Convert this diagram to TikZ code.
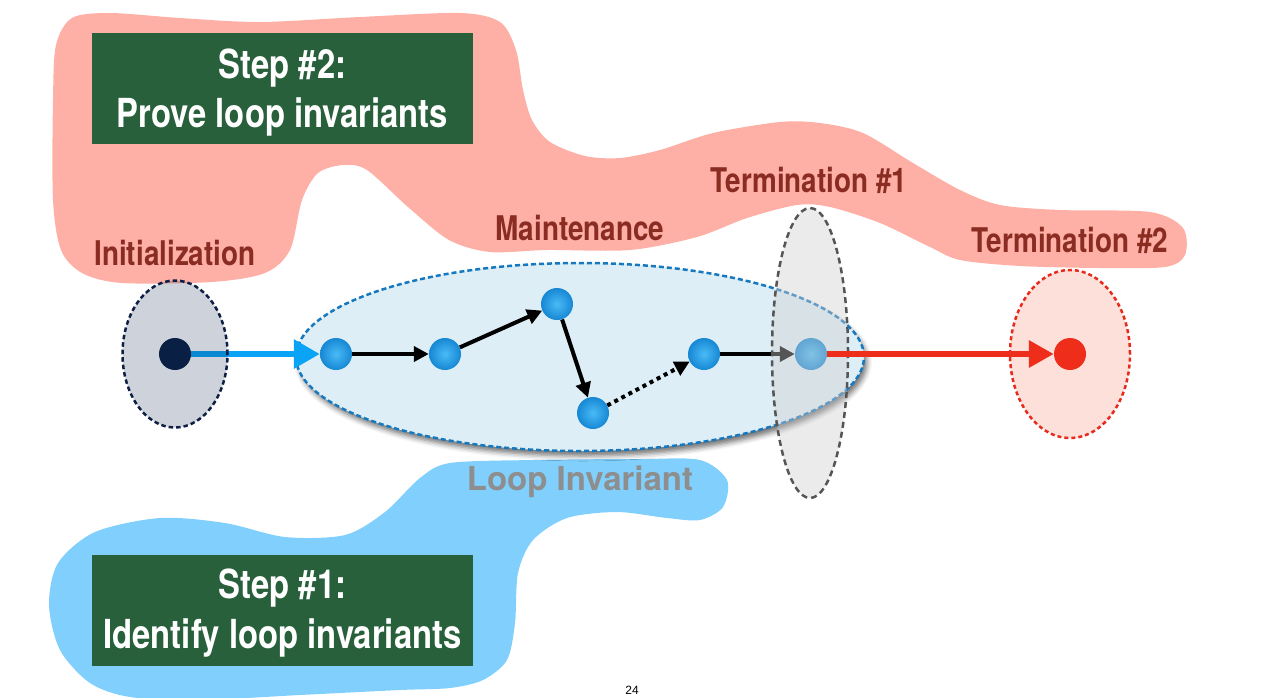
\documentclass[tikz,border=0pt]{standalone}
\usepackage{fontspec}
\setmainfont{TeX Gyre Heros}
\newfontfamily\cond{TeX Gyre Heros}[FakeStretch=0.82]
\newfontfamily\plainsf{Liberation Sans}
\usetikzlibrary{arrows.meta,shapes.geometric,shadows.blur}
\definecolor{pinkblob}{HTML}{FEB0A6}
\definecolor{blueblob}{HTML}{80CFFD}
\definecolor{boxgreen}{HTML}{28603B}
\definecolor{labelred}{HTML}{8A2C22}
\definecolor{invfill}{HTML}{DDEEF7}
\definecolor{invborder}{HTML}{1679C0}
\definecolor{navy}{HTML}{0A1F44}
\definecolor{initborder}{HTML}{0D1F45}
\definecolor{grayveil}{HTML}{CFCFCF}
\definecolor{grayborder}{HTML}{555555}
\definecolor{termfill}{HTML}{FDE0DA}
\definecolor{termborder}{HTML}{E62A1C}
\definecolor{redc}{HTML}{EE2D1A}
\definecolor{arrowblue}{HTML}{0AA3F5}
\definecolor{ballin}{HTML}{4ABAF6}
\definecolor{ballout}{HTML}{1688D4}
\definecolor{invtext}{HTML}{8E8E8E}
\pgfdeclarelayer{back}
\pgfdeclarelayer{arrows}
\pgfdeclarelayer{veil}
\pgfsetlayers{back,arrows,veil,main}
\tikzset{
  lbl/.style={text=labelred, font=\cond\bfseries\fontsize{34}{40}\selectfont, anchor=base, inner sep=0pt},
  stepbox/.style={fill=boxgreen, minimum width=381pt, minimum height=111pt, inner sep=0pt},
  steptext/.style={text=white, font=\cond\bfseries\fontsize{40}{48}\selectfont, anchor=base, inner sep=0pt},
  ball/.style={circle, minimum size=32pt, inner sep=0pt, inner color=ballin, outer color=ballout},
  dotnode/.style={circle, minimum size=32pt, inner sep=0pt},
  blk/.style={line width=4pt, draw=black, -{Triangle[length=15pt,width=15pt]}},
  ringdash/.style={line width=2.5pt, dash pattern=on 4.5pt off 3pt},
}
\begin{document}
\begin{tikzpicture}[x=1pt,y=-1pt]
\useasboundingbox (0,0) rectangle (1265,697);
\begin{pgfonlayer}{back}
  % pink blob
  \fill[pinkblob] plot[smooth cycle, tension=0.5] coordinates {
    (56,45) (72,18) (110,13) (180,18) (260,22) (360,17) (460,13) (500,22)
    (516,50) (523,90) (532,120) (550,142) (585,156) (620,158) (660,150)
    (713,133) (780,122) (820,123) (863,133) (913,163) (960,190) (1000,205)
    (1060,210) (1150,212) (1183,228) (1185,255) (1165,267) (1100,268)
    (1020,266) (960,260) (930,247) (880,223) (830,207) (797,205) (747,218)
    (697,237) (630,250) (547,250) (490,252) (449,240) (408,207) (367,170)
    (343,165) (318,173) (302,200) (290,250) (265,273) (212,282) (122,283)
    (82,273) (61,250) (53,200) (53,100)};
  % blue blob
  \fill[blueblob] plot[smooth cycle, tension=0.5] coordinates {
    (450,463) (533,460) (640,459) (700,460) (727,480) (723,507) (700,520)
    (667,518) (617,512) (567,518) (533,540) (518,573) (515,623) (507,660)
    (483,680) (450,688) (400,690) (300,695) (200,700) (130,697) (90,683)
    (60,650) (49,605) (58,563) (95,532) (160,518) (225,523) (285,537)
    (345,535) (385,512) (420,478)};
  % step boxes
  \node[stepbox] (s2) at (282.5,88.5) {};
  \node[steptext] (s2a) at (282.5,78) {Step \#2:};
  \node[steptext] (s2b) at (282.5,127) {Prove loop invariants};
  \node[stepbox] (s1) at (282.5,610) {};
  \node[steptext] (s1a) at (282.5,598) {Step \#1:};
  \node[steptext] (s1b) at (282.5,648) {Identify loop invariants};
  % labels
  \node[lbl] (linit) at (175,265) {Initialization};
  \node[lbl] (lmain) at (580,240) {Maintenance};
  \node[lbl] (lt1) at (809,192) {Termination \#1};
  \node[lbl] (lt2) at (1070,252) {Termination \#2};
  \node[anchor=base, inner sep=0pt, text=invtext, font=\bfseries\fontsize{33}{38}\selectfont] (linv) at (580,490) {Loop Invariant};
  \node[inner sep=0pt, font=\plainsf\fontsize{12}{14}\selectfont] (pg) at (632,690) {24};
  % loop invariant ellipse
  \node[ellipse, draw=invborder, fill=invfill, ringdash, dash pattern=on 5pt off 3pt,
        minimum width=568pt, minimum height=188pt, inner sep=0pt,
        blur shadow={shadow xshift=3pt, shadow yshift=-5pt, shadow blur radius=5pt, shadow opacity=55}] (inv) at (580,357) {};
  % termination 2 ellipse
  \node[ellipse, draw=termborder, fill=termfill, ringdash, dash pattern=on 4pt off 3pt,
        minimum width=120pt, minimum height=168pt, inner sep=0pt] (t2e) at (1070,354) {};
\end{pgfonlayer}
% balls and dots
\node[dotnode, fill=navy] (d0) at (175,354) {};
\node[ball] (n1) at (336,354) {};
\node[ball] (n2) at (445,354) {};
\node[ball] (n3) at (557,304) {};
\node[ball] (n4) at (593,413) {};
\node[ball] (n5) at (704,354) {};
\node[dotnode, fill=redc] (rd) at (1070,354) {};
\begin{pgfonlayer}{arrows}
  \node[ball] (n6) at (811,354) {};
  \draw[line width=6pt, draw=arrowblue, -{Triangle[length=26pt,width=28pt]}] (d0) -- (n1);
  \draw[blk] (n1) -- (n2);
  \draw[blk] (n2) -- (n3);
  \draw[blk] (n3) -- (n4);
  \draw[blk, dash pattern=on 4pt off 4pt] (n4) -- (n5);
  \draw[blk] (n5) -- (n6);
\end{pgfonlayer}
\begin{pgfonlayer}{veil}
  \node[ellipse, draw=initborder, fill=navy, fill opacity=0.2, draw opacity=1, ringdash,
        minimum width=105pt, minimum height=147pt, inner sep=0pt] (ie) at (175,354) {};
  \node[ellipse, draw=grayborder, fill=grayveil, fill opacity=0.41, line width=2.5pt, dash pattern=on 6pt off 4pt,
        minimum width=76pt, minimum height=290pt, inner sep=0pt] (t1e) at (810,353) {};
\end{pgfonlayer}
\draw[line width=6.5pt, draw=redc, -{Triangle[length=25pt,width=26pt]}] (n6) -- (rd);
\end{tikzpicture}
\end{document}
